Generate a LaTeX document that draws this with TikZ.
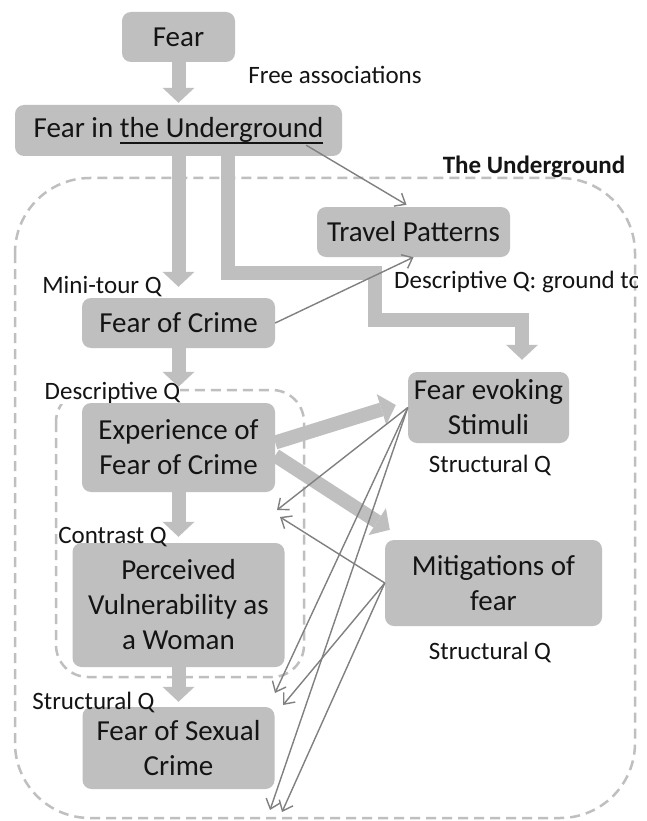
\documentclass[tikz,border=0pt]{standalone}
\usepackage{fontspec}
\setmainfont{Carlito}
\usetikzlibrary{arrows.meta,calc}
\definecolor{boxgray}{HTML}{BFBFBF}
\definecolor{linkgray}{HTML}{808080}
\definecolor{inkcol}{HTML}{141414}
% underline placed at descender level, as in the heading box
\newcommand\ulinetext[1]{\setbox0\hbox{#1}\rlap{\rule[-6.5pt]{\wd0}{1.6pt}}\box0}
\begin{document}
\begin{tikzpicture}[x=1pt,y=-1pt,
  box/.style={fill=boxgray, rounded corners=9pt, text=inkcol,
    font=\fontsize{29}{35}\selectfont, align=center, inner sep=0pt},
  note/.style={text=inkcol, font=\fontsize{25}{30}\selectfont, inner sep=1pt},
  notebg/.style={note, fill=white, inner sep=0pt},
  frame/.style={draw=boxgray, line width=2.5pt, dash pattern=on 10pt off 6pt},
  flow/.style={draw=boxgray, line width=14pt,
    -{Triangle[length=15pt,width=32pt,line width=0pt]}},
  link/.style={draw=linkgray, line width=1.4pt,
    -{Straight Barb[length=9pt,width=15pt]}}]

% canvas
\fill[white] (0,0) rectangle (646,821);
\useasboundingbox (0,0) rectangle (646,821);

% dashed groupings
\draw[frame, rounded corners=75pt] (15,178) rectangle (635,818);
\draw[frame, rounded corners=32pt] (56,390) rectangle (304,677);

% label that masks the inner frame's top edge
\node[notebg] (lbldesc) at (112.5,393) {Descriptive Q};

% topic boxes
\node[box, minimum width=113pt, minimum height=50pt] (fear) at (178.5,37) {Fear};
\node[box, minimum width=327pt, minimum height=51pt] (fiu) at (178.5,130.5)
  {Fear in \ulinetext{the Underground}};
\node[box, minimum width=193pt, minimum height=50pt] (tp) at (413.5,232) {Travel Patterns};
\node[box, minimum width=193pt, minimum height=50pt] (foc) at (178.5,323) {Fear of Crime};
\node[box, minimum width=193pt, minimum height=89pt] (exp) at (178.5,447.5)
  {Experience of\\Fear of Crime};
\node[box, minimum width=161pt, minimum height=71pt] (fes) at (488.5,407.5)
  {Fear evoking\\Stimuli};
\node[box, minimum width=217pt, minimum height=86pt] (mit) at (493.5,583)
  {Mitigations of\\fear};
\node[box, minimum width=212pt, minimum height=124pt] (pv) at (178.5,605)
  {Perceived\\Vulnerability as\\a Woman};
\node[box, minimum width=192pt, minimum height=82pt] (fsc) at (178.5,748)
  {Fear of Sexual\\Crime};

% broad flow arrows
\draw[flow] (fear.south) -- ($(fiu.north)+(0,-2)$);
\draw[flow] (fiu.south) -- ($(foc.north)+(0,-11)$);
\draw[flow] (foc.south) -- ($(exp.north)+(0,-16)$);
\draw[flow] (exp.south) -- ($(pv.north)+(0,-6)$);
\draw[flow] (pv.south) -- ($(fsc.north)+(0,-5)$);
\draw[flow, line join=miter] ($(fiu.south)+(49.5,0)$) -- ++(0,117) -- ++(147,0)
  -- ++(0,47) -- ++(147,0) -- ($(fes.north)+(33.5,-12)$);
\draw[flow] ($(exp.east)+(0,-5)$) -- ($(fes.west)+(-12,-2.5)$);
\draw[flow] ($(exp.east)+(0,8)$) -- ($(mit.north west)+(5,-10)$);

% question-type labels
\node[note] (lblfree) at (335,75) {Free associations};
\node[note, font=\fontsize{25}{30}\selectfont\bfseries] (lblug) at (534,167) {The Underground};
\node[note] (lblmini) at (102,287) {Mini-tour Q};
\begin{scope}
  \clip (0,0) rectangle (637,821);
  \node[note, anchor=west, inner sep=0pt] (lblground) at (394,282) {Descriptive Q: ground tour};
\end{scope}
\node[note] (lblstructA) at (490,465) {Structural Q};
\node[note] (lblcontrast) at (112.5,537) {Contrast Q};
\node[note] (lblstructB) at (490,652) {Structural Q};
\node[note] (lblstructC) at (93.5,702) {Structural Q};

% thin links
\coordinate (tgtA) at (277,510);
\coordinate (tgtB) at (280,517);
\coordinate (tgtC) at (275,693);
\coordinate (tgtD) at (283,705);
\coordinate (tgtE) at (270,810);
\coordinate (tgtF) at (282,812);
\draw[link] ($(fiu.south east)+(-36,-11)$) -- ($(tp.north)+(-7,-2)$);
\draw[link] (foc.east) -- (tp.south);
\draw[link] (fes.west) -- (tgtA);
\draw[link] (fes.west) -- (tgtC);
\draw[link] (fes.west) -- (tgtE);
\draw[link] (mit.west) -- (tgtB);
\draw[link] (mit.west) -- (tgtD);
\draw[link] (mit.west) -- (tgtF);
\end{tikzpicture}
\end{document}
